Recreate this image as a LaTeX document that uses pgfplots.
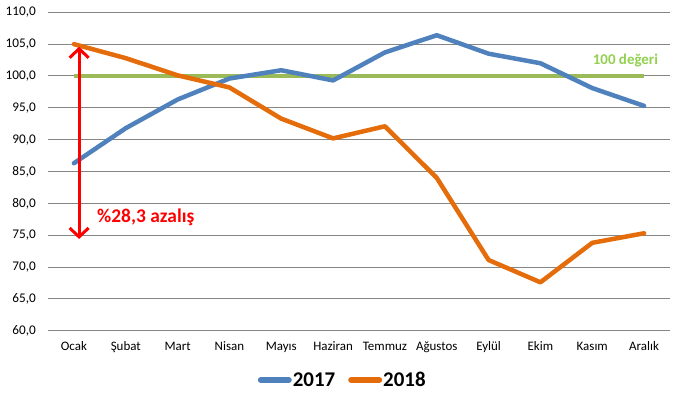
\documentclass[border=0pt]{standalone}
\usepackage{fontspec}
\setmainfont{Carlito}
\usepackage{pgfplots}
\pgfplotsset{compat=1.18}
\usetikzlibrary{arrows.meta}
\definecolor{c2017}{HTML}{4F81BD}
\definecolor{c2018}{HTML}{E46C0A}
\definecolor{cgreen}{HTML}{9BBB59}
\definecolor{cgreentext}{HTML}{92D050}
\definecolor{cgrid}{HTML}{868686}
\begin{document}
\begin{tikzpicture}
\path[use as bounding box] (0,0) rectangle (681bp,397bp);
\begin{axis}[
  at={(48bp,66.3bp)}, anchor=south west,
  scale only axis, width=622bp, height=318.4bp,
  xmin=-0.5, xmax=11.5, ymin=60, ymax=110,
  axis line style={draw=none},
  tick style={draw=none},
  ytick={60,65,...,110},
  xtick={0,...,11},
  xticklabels={Ocak,Şubat,Mart,Nisan,Mayıs,Haziran,Temmuz,Ağustos,Eylül,Ekim,Kasım,Aralık},
  ymajorgrids, grid style={cgrid, line width=1bp},
  /pgf/number format/.cd, assume math mode=true, use comma, fixed, fixed zerofill, precision=1, 1000 sep={},
  /pgfplots/.cd,
  yticklabel style={font=\fontsize{13.3}{15}\selectfont, inner sep=0pt, anchor=east, xshift=-12bp},
  xticklabel style={font=\fontsize{13}{15}\selectfont, inner sep=0pt, anchor=north, yshift=-11bp},
  legend columns=2,
  legend style={draw=none, fill=none, at={(axis description cs:0.473,-0.155)}, anchor=center,
    font=\bfseries\fontsize{21}{24}\selectfont, inner sep=0pt,
    nodes={inner sep=1bp},
    /tikz/every even column/.append style={column sep=12bp}},
  legend cell align=left,
  legend image code/.code={\draw[#1, line width=6bp, line cap=round] (0bp,0bp) -- (28bp,0bp);},
]
\addplot[cgreen, line width=4bp, forget plot] coordinates {(0,100) (1,100) (2,100) (3,100) (4,100) (5,100) (6,100) (7,100) (8,100) (9,100) (10,100) (11,100)};
\addplot[c2017, line width=4.5bp, line join=round, line cap=round] coordinates {
(0,86.3) (1,91.8) (2,96.3) (3,99.6) (4,100.9) (5,99.3) (6,103.7) (7,106.4) (8,103.5) (9,102.0) (10,98.1) (11,95.3)};
\addlegendentry{2017}
\addplot[c2018, line width=4.5bp, line join=round, line cap=round] coordinates {
(0,105.0) (1,102.8) (2,100.1) (3,98.2) (4,93.3) (5,90.2) (6,92.1) (7,84.0) (8,71.1) (9,67.6) (10,73.8) (11,75.3)};
\addlegendentry{2018}
\addplot[red, line width=3bp, {Straight Barb[length=9bp,width=19bp]}-{Straight Barb[length=9bp,width=19bp]}, forget plot] coordinates {(0.1,104.6) (0.1,74.4)};
\node[anchor=west, text=red, font=\bfseries\fontsize{19.5}{22}\selectfont, inner sep=0pt] at (axis cs:0.446,77.8) {\%28,3 azalış};
\node[text=cgreentext, font=\bfseries\fontsize{15}{18}\selectfont, inner sep=0pt] at (axis cs:10.64,102.5) {100 değeri};
\end{axis}
\end{tikzpicture}
\end{document}
